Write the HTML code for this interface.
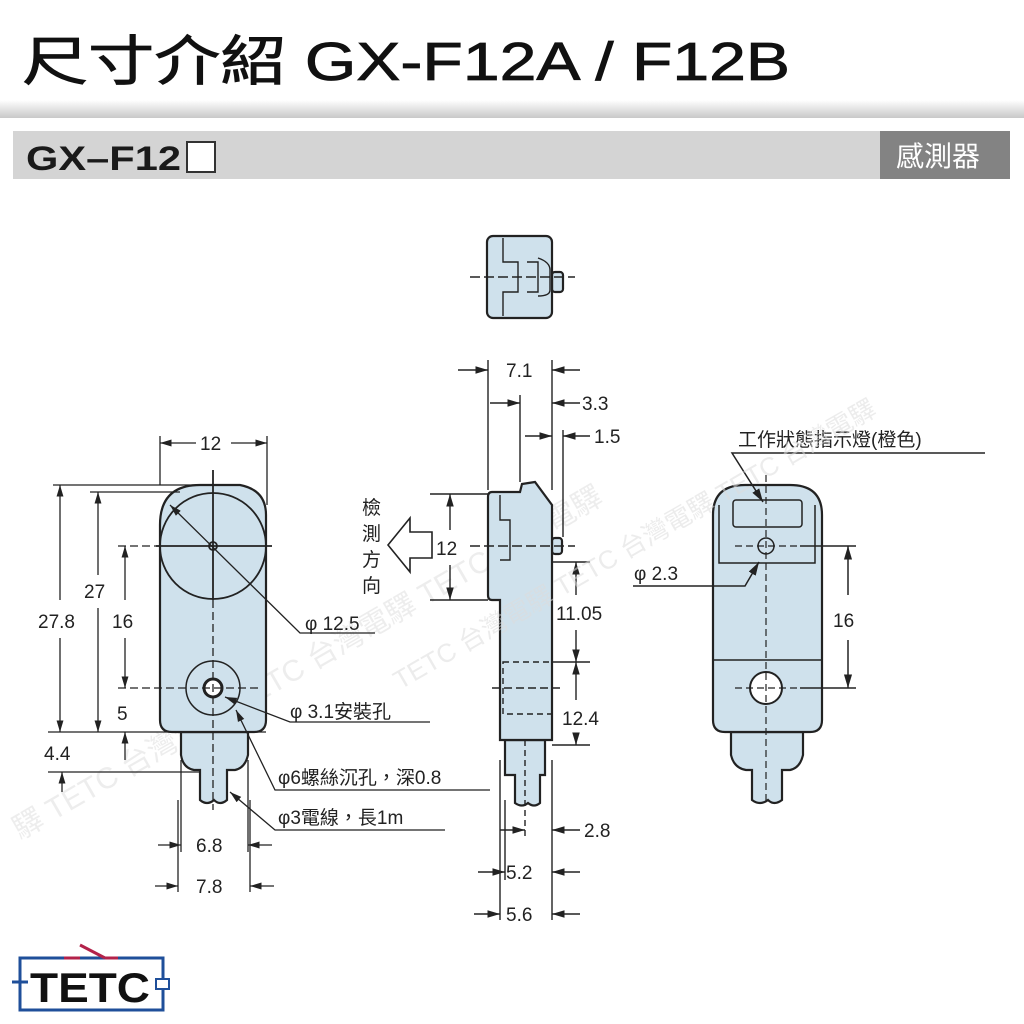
<!DOCTYPE html>
<html><head><meta charset="utf-8"><style>
body{margin:0;width:1024px;height:1024px;background:#fff;overflow:hidden;font-family:"Liberation Sans","Noto Sans CJK TC",sans-serif}
svg{position:absolute;left:0;top:0}
</style></head><body>
<svg width="1024" height="1024" viewBox="0 0 1024 1024" font-family="Liberation Sans, Noto Sans CJK TC, sans-serif">
<defs>
<linearGradient id="sh" x1="0" y1="0" x2="0" y2="1"><stop offset="0" stop-color="#fff"/><stop offset="1" stop-color="#c8c8c8"/></linearGradient>
<marker id="a" viewBox="0 0 10 10" refX="10" refY="5" markerWidth="9" markerHeight="9" orient="auto-start-reverse"><path d="M0,2 L10,5 L0,8 z" fill="#222"/></marker>
<clipPath id="bodyL"><path d="M160,525 Q160,485 200,485 L240,485 Q266,490 266,515 L266,720 Q266,732 254,732 L172,732 Q160,732 160,720 Z"/></clipPath>
</defs>
<text x="22" y="80" font-size="54" fill="#111" stroke="#111" stroke-width="0.8" textLength="768" lengthAdjust="spacingAndGlyphs">尺寸介紹 GX-F12A / F12B</text>
<rect x="0" y="100" width="1024" height="18" fill="url(#sh)"/>
<rect x="13" y="131" width="978" height="48" fill="#d4d4d4"/>
<rect x="880" y="131" width="130" height="48" fill="#838383"/>
<text x="26" y="170" font-size="34" font-weight="bold" fill="#1a1a1a" textLength="155" lengthAdjust="spacingAndGlyphs">GX–F12</text>
<rect x="187" y="142" width="28" height="30" fill="#fff" stroke="#333" stroke-width="2"/>
<text x="896" y="166" font-size="28" fill="#fff">感測器</text>

<g font-size="30" fill="#ddd" opacity="0.5">
<text transform="translate(20,840) rotate(-30)">驛  TETC  台灣電驛  TETC  台灣電驛  TETC  台灣電驛</text>
</g>

<g stroke="#222" stroke-width="2.2" fill="#cfe1ec">
<path d="M181,732 L248,732 L248,755 Q245,768 235,770 L227,770 L227,800 Q220,806 214,800 Q207,806 200,800 L200,770 L194,770 Q183,768 181,755 Z"/>
<path d="M160,525 Q160,485 200,485 L240,485 Q266,490 266,515 L266,720 Q266,732 254,732 L172,732 Q160,732 160,720 Z"/>
</g>
<g stroke="#222" stroke-width="1.8" fill="none">
<circle cx="213" cy="546" r="53" clip-path="url(#bodyL)"/>
<circle cx="213" cy="688" r="27" fill="#cfe1ec" stroke-width="1.5"/>
<circle cx="213" cy="688" r="9" fill="#fff" stroke-width="3"/>
<circle cx="213" cy="546" r="4"/>
<line x1="156" y1="546" x2="272" y2="546"/>
<line x1="213" y1="470" x2="213" y2="600"/>
<line x1="213" y1="600" x2="213" y2="810" stroke-dasharray="8,4" stroke-width="1.3"/>
<line x1="118" y1="688" x2="262" y2="688" stroke-dasharray="8,4" stroke-width="1.3"/>
<line x1="118" y1="546" x2="160" y2="546" stroke-dasharray="8,4" stroke-width="1.3"/>
<line x1="160" y1="436" x2="160" y2="485" stroke-width="1.3"/><line x1="267" y1="436" x2="267" y2="505" stroke-width="1.3"/>
<line x1="53" y1="485" x2="200" y2="485" stroke-width="1.3"/><line x1="90" y1="492" x2="180" y2="492" stroke-width="1.3"/>
<line x1="48" y1="732" x2="266" y2="732" stroke-width="1.3"/><line x1="48" y1="772" x2="200" y2="772" stroke-width="1.3"/>
<line x1="181" y1="760" x2="181" y2="852" stroke-width="1.3"/><line x1="248" y1="760" x2="248" y2="852" stroke-width="1.3"/>
<line x1="178" y1="800" x2="178" y2="892" stroke-width="1.3"/><line x1="250" y1="800" x2="250" y2="892" stroke-width="1.3"/>
<line x1="160" y1="443" x2="196" y2="443" marker-start="url(#a)" stroke-width="1.3"/><line x1="231" y1="443" x2="267" y2="443" marker-end="url(#a)" stroke-width="1.3"/>
<line x1="60" y1="485" x2="60" y2="600" marker-start="url(#a)" stroke-width="1.3"/><line x1="60" y1="638" x2="60" y2="732" marker-end="url(#a)" stroke-width="1.3"/>
<line x1="98" y1="492" x2="98" y2="575" marker-start="url(#a)" stroke-width="1.3"/><line x1="98" y1="608" x2="98" y2="732" marker-end="url(#a)" stroke-width="1.3"/>
<line x1="125" y1="546" x2="125" y2="600" marker-start="url(#a)" stroke-width="1.3"/><line x1="125" y1="638" x2="125" y2="688" marker-end="url(#a)" stroke-width="1.3"/>
<line x1="125" y1="760" x2="125" y2="732" marker-end="url(#a)" stroke-width="1.3"/><line x1="62" y1="792" x2="62" y2="772" marker-end="url(#a)" stroke-width="1.3"/>
<line x1="158" y1="845" x2="181" y2="845" marker-end="url(#a)" stroke-width="1.3"/><line x1="272" y1="845" x2="248" y2="845" marker-end="url(#a)" stroke-width="1.3"/>
<line x1="155" y1="886" x2="178" y2="886" marker-end="url(#a)" stroke-width="1.3"/><line x1="274" y1="886" x2="250" y2="886" marker-end="url(#a)" stroke-width="1.3"/>
<polyline points="170,505 300,633 375,633" marker-start="url(#a)" stroke-width="1.3"/>
<polyline points="225,697 290,722 430,722" marker-start="url(#a)" stroke-width="1.3"/>
<polyline points="236,710 275,790 490,790" marker-start="url(#a)" stroke-width="1.3"/>
<polyline points="230,792 275,830 445,830" marker-start="url(#a)" stroke-width="1.3"/>
</g>
<g font-size="19" fill="#222">
<text x="200" y="450">12</text>
<text x="38" y="628">27.8</text><text x="84" y="598">27</text><text x="112" y="628">16</text>
<text x="117" y="720">5</text><text x="44" y="760">4.4</text>
<text x="196" y="852">6.8</text><text x="196" y="893">7.8</text>
<text x="305" y="630">φ 12.5</text>
<text x="290" y="718">φ 3.1安裝孔</text>
<text x="278" y="784">φ6螺絲沉孔，深0.8</text>
<text x="278" y="824">φ3電線，長1m</text>
</g>

<g stroke="#222" stroke-width="2.2" fill="#cfe1ec">
<rect x="552" y="272" width="11" height="20" rx="3"/>
<rect x="487" y="236" width="65" height="82" rx="6"/>
<rect x="552" y="538" width="10" height="16" rx="3"/>
<path d="M505,740 L545,740 L545,775 L540,775 L540,803 Q534,808 528,803 Q522,808 515,803 L515,775 L505,775 Z"/>
<path d="M492,492 L520,492 L522,484 L535,482 L552,505 L552,740 L500,740 L500,600 L492,600 Q488,600 488,595 L488,497 Q488,492 492,492 Z"/>
</g>
<g stroke="#222" stroke-width="1.4" fill="none">
<polyline points="503,238 503,262 518,262 518,292 503,292 503,316"/>
<path d="M527,262 L538,262 L538,292 L527,292"/>
<path d="M538,258 Q550,262 550,270 L550,290 Q550,296 538,296"/>
<line x1="470" y1="277" x2="575" y2="277" stroke-dasharray="10,4"/>
<polyline points="500,495 500,520 510,520 510,560 500,560"/>
<line x1="470" y1="546" x2="575" y2="546" stroke-dasharray="10,4"/>
<rect x="503" y="662" width="49" height="52" stroke-dasharray="6,4"/>
<line x1="492" y1="688" x2="562" y2="688" stroke-dasharray="8,4"/>
<line x1="525" y1="740" x2="525" y2="840" stroke-dasharray="6,4"/>
<line x1="488" y1="360" x2="488" y2="490"/><line x1="552" y1="360" x2="552" y2="490"/>
<line x1="520" y1="395" x2="520" y2="482"/><line x1="563" y1="430" x2="563" y2="537"/>
<line x1="458" y1="370" x2="488" y2="370" marker-end="url(#a)"/><line x1="580" y1="370" x2="552" y2="370" marker-end="url(#a)"/>
<line x1="490" y1="403" x2="520" y2="403" marker-end="url(#a)"/><line x1="580" y1="403" x2="552" y2="403" marker-end="url(#a)"/>
<line x1="525" y1="436" x2="552" y2="436" marker-end="url(#a)"/><line x1="590" y1="436" x2="563" y2="436" marker-end="url(#a)"/>
<line x1="430" y1="494" x2="488" y2="494"/><line x1="430" y1="600" x2="488" y2="600"/>
<line x1="450" y1="530" x2="450" y2="494" marker-end="url(#a)"/><line x1="450" y1="565" x2="450" y2="600" marker-end="url(#a)"/>
<line x1="552" y1="562" x2="590" y2="562"/><line x1="552" y1="662" x2="590" y2="662"/><line x1="552" y1="745" x2="590" y2="745"/>
<line x1="576" y1="595" x2="576" y2="562" marker-end="url(#a)"/><line x1="576" y1="630" x2="576" y2="662" marker-end="url(#a)"/>
<line x1="576" y1="700" x2="576" y2="662" marker-end="url(#a)"/><line x1="576" y1="735" x2="576" y2="745" marker-end="url(#a)"/>
<line x1="500" y1="760" x2="500" y2="920"/><line x1="552" y1="760" x2="552" y2="920"/><line x1="505" y1="800" x2="505" y2="880"/>
<line x1="500" y1="830" x2="525" y2="830" marker-end="url(#a)"/><line x1="580" y1="830" x2="552" y2="830" marker-end="url(#a)"/>
<line x1="478" y1="872" x2="505" y2="872" marker-end="url(#a)"/><line x1="580" y1="872" x2="552" y2="872" marker-end="url(#a)"/>
<line x1="474" y1="914" x2="500" y2="914" marker-end="url(#a)"/><line x1="580" y1="914" x2="552" y2="914" marker-end="url(#a)"/>
<path d="M388,545 L410,518 L410,532 L432,532 L432,558 L410,558 L410,572 Z" stroke-width="1.6" fill="#fff"/>
</g>
<g font-size="19" fill="#222">
<text x="506" y="377">7.1</text><text x="582" y="410">3.3</text><text x="594" y="443">1.5</text>
<text x="436" y="555">12</text><text x="556" y="620">11.05</text><text x="562" y="725">12.4</text>
<text x="584" y="837">2.8</text><text x="506" y="879">5.2</text><text x="506" y="921">5.6</text>
<text x="362" y="514">檢</text><text x="362" y="540">測</text><text x="362" y="566">方</text><text x="362" y="592">向</text>
</g>

<g stroke="#222" stroke-width="2.2" fill="#cfe1ec">
<path d="M731,732 L803,732 L803,755 Q800,768 790,770 L782,770 L782,800 Q774,806 768,800 Q760,806 752,800 L752,770 L746,770 Q734,768 731,755 Z"/>
<path d="M713,515 Q713,485 745,485 L790,485 Q822,485 822,515 L822,720 Q822,732 810,732 L725,732 Q713,732 713,720 Z"/>
</g>
<g stroke="#222" stroke-width="1.5" fill="none">
<path d="M719,505 L719,563 L815,563 L815,505"/>
<rect x="733" y="500" width="69" height="27" rx="3"/>
<line x1="713" y1="660" x2="822" y2="660"/>
<circle cx="766" cy="546" r="8"/>
<circle cx="766" cy="688" r="16" fill="#fff" stroke-width="2"/>
<line x1="766" y1="475" x2="766" y2="805" stroke-dasharray="7,4" stroke-width="1.2"/>
<line x1="735" y1="546" x2="800" y2="546" stroke-dasharray="7,4" stroke-width="1.2"/>
<line x1="735" y1="688" x2="800" y2="688" stroke-dasharray="7,4" stroke-width="1.2"/>
<line x1="800" y1="546" x2="856" y2="546"/><line x1="800" y1="688" x2="856" y2="688"/>
<line x1="848" y1="595" x2="848" y2="546" marker-end="url(#a)"/><line x1="848" y1="640" x2="848" y2="688" marker-end="url(#a)"/>
<polyline points="985,453 732,453 763,502" marker-end="url(#a)"/>
<polyline points="633,586 745,586 759,562" marker-end="url(#a)"/>
</g>
<g font-size="19" fill="#222">
<text x="738" y="446">工作狀態指示燈(橙色)</text>
<text x="634" y="580">φ 2.3</text>
<text x="833" y="627">16</text>
</g>
<g font-size="26" fill="#ddd" opacity="0.55">
<text transform="translate(400,690) rotate(-30)">TETC  台灣電驛  TETC  台灣電驛  TETC  台灣電驛</text>
</g>

<rect x="20" y="958" width="143" height="52" fill="none" stroke="#1f4f9a" stroke-width="3"/>
<line x1="64" y1="958" x2="80" y2="958" stroke="#fff" stroke-width="4"/>
<line x1="64" y1="958" x2="80" y2="958" stroke="#b3224a" stroke-width="3"/>
<line x1="80" y1="945" x2="105" y2="958" stroke="#b3224a" stroke-width="3"/>
<line x1="105" y1="958" x2="118" y2="958" stroke="#b3224a" stroke-width="3"/>
<line x1="12" y1="982" x2="28" y2="982" stroke="#1f4f9a" stroke-width="3"/>
<rect x="156" y="979" width="13" height="10" fill="#fff" stroke="#1f4f9a" stroke-width="2"/>
<text x="30" y="1002" font-size="42" font-weight="bold" fill="#111" textLength="120" lengthAdjust="spacingAndGlyphs">TETC</text>
</svg>
</body></html>
